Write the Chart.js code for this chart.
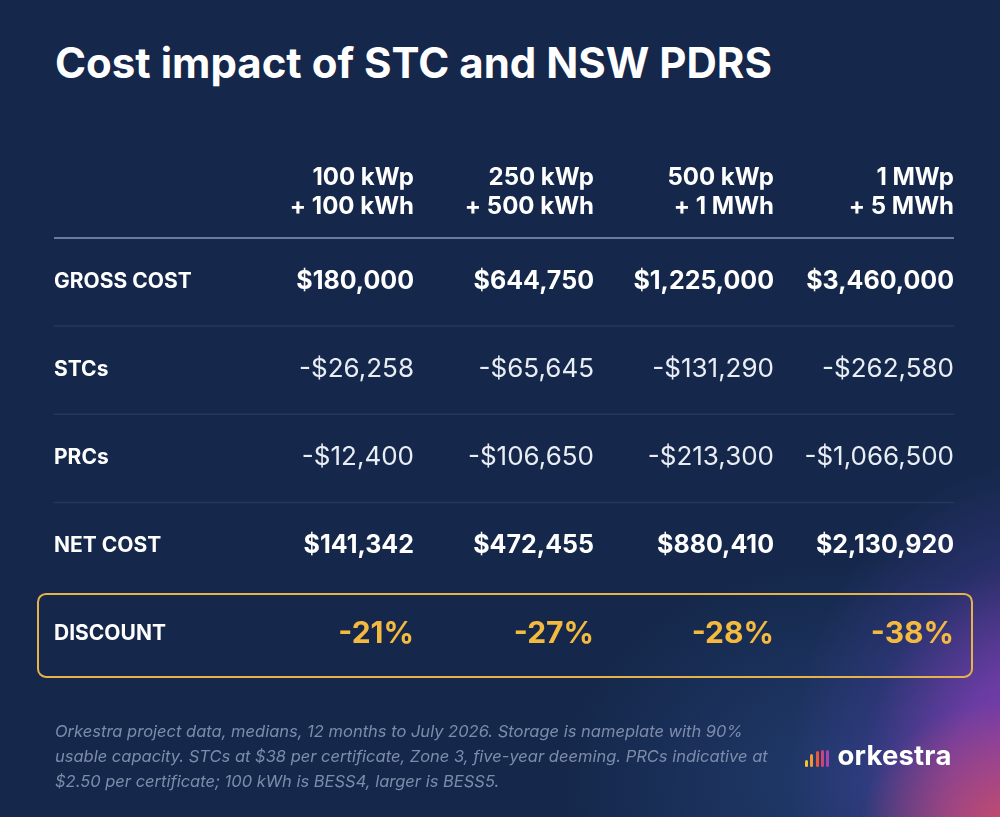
<!DOCTYPE html>
<html>
<head>
<meta charset="utf-8">
<script src="https://cdn.jsdelivr.net/npm/chart.js@4/dist/chart.umd.min.js"></script>
<style>
  html, body { margin: 0; padding: 0; }
  body {
    width: 1000px; height: 817px; overflow: hidden; position: relative;
    background:
      radial-gradient(ellipse 150px 130px at 1010px 830px, rgba(208,78,98,0.9) 0%, rgba(208,78,98,0) 100%),
      radial-gradient(ellipse 250px 320px at 1040px 780px, rgba(132,62,180,1) 0%, rgba(120,62,176,0.85) 35%, rgba(70,60,155,0.35) 70%, rgba(21,40,75,0) 100%),
      radial-gradient(ellipse 300px 220px at 860px 780px, rgba(38,66,122,0.75) 0%, rgba(21,40,75,0) 100%),
      #15284b;
    font-family: "Inter", "Lato", sans-serif;
  }
  #title {
    position: absolute; left: 55px; top: 38px; margin: 0;
    color: #ffffff; font-size: 42px; font-weight: 700; letter-spacing: 0px;
    line-height: 50px;
  }
  #wrap { position: absolute; left: 0; top: 0; width: 1000px; height: 817px; }
  #note {
    position: absolute; left: 55px; top: 719px; margin: 0;
    color: #7d8cab; font-size: 16.5px; font-style: italic; line-height: 25px;
  }
  #logo { position: absolute; left: 805px; top: 740px; height: 27px; display: flex; align-items: flex-end; }
  .bar { width: 3px; margin-right: 2.3px; border-radius: 1.5px; }
  #logo span { color: #fff; font-weight: 700; font-size: 27.5px; line-height: 27px; margin-left: 6px; letter-spacing: 0.2px; position: relative; top: 2px; }
</style>
</head>
<body>
<h1 id="title">Cost impact of STC and NSW PDRS</h1>
<div id="wrap"><canvas id="c" width="1000" height="817"></canvas></div>
<p id="note">Orkestra project data, medians, 12 months to July 2026. Storage is nameplate with 90%<br>usable capacity. STCs at $38 per certificate, Zone 3, five-year deeming. PRCs indicative at<br>$2.50 per certificate; 100 kWh is BESS4, larger is BESS5.</p>
<div id="logo">
  <div class="bar" style="height:7px;background:#f3c531"></div>
  <div class="bar" style="height:13px;background:#f19a2f"></div>
  <div class="bar" style="height:16px;background:#e9593c"></div>
  <div class="bar" style="height:17px;background:#d2427a"></div>
  <div class="bar" style="height:17px;background:#a445b4"></div>
  <span>orkestra</span>
</div>
<script>
// ---- data ----
const headerLine1 = ['100 kWp', '250 kWp', '500 kWp', '1 MWp'];
const headerLine2 = ['+ 100 kWh', '+ 500 kWh', '+ 1 MWh', '+ 5 MWh'];
const rowLabels = ['GROSS COST', 'STCs', 'PRCs', 'NET COST', 'DISCOUNT'];
const grossCost = [180000, 644750, 1225000, 3460000];
const stcs = [-26258, -65645, -131290, -262580];
const prcs = [-12400, -106650, -213300, -1066500];
const netCost = [141342, 472455, 880410, 2130920];
const discountPct = [-21, -27, -28, -38];

const rowValues = [grossCost, stcs, prcs, netCost, discountPct];
const rowKinds = ['boldMoney', 'money', 'money', 'boldMoney', 'pct'];

function fmtMoney(v) {
  const s = '$' + Math.abs(v).toLocaleString('en-US');
  return v < 0 ? '-' + s : s;
}
function fmtPct(v) { return (v < 0 ? '-' : '') + Math.abs(v) + '%'; }

const FONT = '"Inter", "Lato", sans-serif';

const datasets = rowValues.map((vals, r) => ({
  label: rowLabels[r],
  kind: rowKinds[r],
  data: vals.map((v, i) => ({ x: i + 1, y: r + 1, v: v })),
  pointRadius: 0,
  showLine: false
}));

const tablePlugin = {
  id: 'tablePlugin',
  afterDatasetsDraw(chart) {
    const ctx = chart.ctx;
    const xs = chart.scales.x, ys = chart.scales.y;
    const area = chart.chartArea;
    ctx.save();

    // separators
    for (let r = 0; r < 4; r++) {
      const y = ys.getPixelForValue(r + 0.52);
      ctx.beginPath();
      ctx.moveTo(area.left, y);
      ctx.lineTo(area.right, y);
      ctx.strokeStyle = r === 0 ? '#6a7b9b' : '#25395d';
      ctx.lineWidth = r === 0 ? 2 : 1.5;
      ctx.stroke();
    }

    // discount box
    const yd = ys.getPixelForValue(5);
    const bx = area.left - 16, bw = (area.right + 18) - bx;
    const by = yd - 39, bh = 83;
    ctx.beginPath();
    ctx.roundRect(bx, by, bw, bh, 8);
    ctx.strokeStyle = '#e6b24a';
    ctx.lineWidth = 2;
    ctx.stroke();

    // header labels
    ctx.fillStyle = '#ffffff';
    ctx.textAlign = 'right';
    ctx.textBaseline = 'middle';
    ctx.font = '700 24px ' + FONT;
    const yh = ys.getPixelForValue(0);
    headerLine1.forEach((t, i) => {
      const x = xs.getPixelForValue(i + 1);
      ctx.fillText(t, x, yh - 14);
      ctx.fillText(headerLine2[i], x, yh + 15);
    });

    // rows
    chart.data.datasets.forEach((ds, r) => {
      const meta = chart.getDatasetMeta(r);
      const yRow = ys.getPixelForValue(r + 1);
      ctx.textAlign = 'left';
      ctx.fillStyle = '#ffffff';
      ctx.font = '700 21px ' + FONT;
      ctx.fillText(ds.label, xs.getPixelForValue(-1), yRow + 1);
      meta.data.forEach((pt, i) => {
        const v = ds.data[i].v;
        ctx.textAlign = 'right';
        if (ds.kind === 'pct') {
          ctx.fillStyle = '#f4b93f';
          ctx.font = '700 30px ' + FONT;
          ctx.fillText(fmtPct(v), pt.x, pt.y + 1);
        } else if (ds.kind === 'boldMoney') {
          ctx.fillStyle = '#ffffff';
          ctx.font = '700 25px ' + FONT;
          ctx.fillText(fmtMoney(v), pt.x, pt.y + 1);
        } else {
          ctx.fillStyle = '#e9edf4';
          ctx.font = '400 26px ' + FONT;
          ctx.fillText(fmtMoney(v), pt.x, pt.y + 1);
        }
      });
    });
    ctx.restore();
  }
};

new Chart(document.getElementById('c'), {
  type: 'scatter',
  data: { datasets: datasets },
  options: {
    responsive: false,
    animation: false,
    events: [],
    layout: { padding: { left: 54, right: 46, top: 148, bottom: 140 } },
    plugins: { legend: { display: false }, tooltip: { enabled: false }, title: { display: false } },
    scales: {
      x: { type: 'linear', min: -1, max: 4, display: false },
      y: { type: 'linear', min: -0.5, max: 5.5, reverse: true, display: false }
    }
  },
  plugins: [tablePlugin]
});
</script>
</body>
</html>
